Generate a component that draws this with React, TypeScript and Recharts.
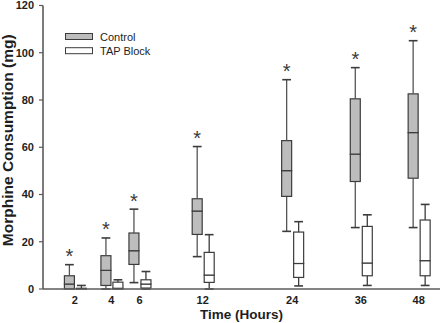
import React from 'react';
import { ComposedChart, Bar, XAxis, YAxis, Legend, LabelList, Label } from 'recharts';

// ---- data ----
const hours = [2, 4, 6, 12, 24, 36, 48];

const controlMin = [0, 0, 2.7, 13.7, 24.4, 26.0, 26.0];
const controlQ1 = [0, 1.5, 10.4, 23.1, 39.2, 45.5, 46.9];
const controlMedian = [2.1, 7.9, 16.2, 33.0, 50.1, 57.1, 66.2];
const controlQ3 = [5.6, 14.1, 23.7, 38.2, 62.8, 80.5, 82.6];
const controlMax = [10.3, 21.6, 33.8, 60.3, 88.6, 93.7, 105.1];

const tapMin = [0, 0, 0, 0, 1.3, 1.5, 1.5];
const tapQ1 = [0, 0, 0.4, 2.8, 4.9, 5.6, 5.6];
const tapMedian = [0, 0.3, 2.1, 5.9, 10.8, 11.0, 12.0];
const tapQ3 = [0.3, 2.9, 3.9, 15.5, 24.1, 26.5, 29.2];
const tapMax = [1.5, 3.9, 7.4, 23.0, 28.5, 31.4, 35.8];

const significance = ['*', '*', '*', '*', '*', '*', '*'];

const yTicks = [0, 20, 40, 60, 80, 100, 120];
const seriesNames = ['Control', 'TAP Block'];

// ---- table built for the library ----
const data = hours.map((h, i) => ({
  hour: h,
  cBase: controlMin[i],
  cLow: controlQ1[i] - controlMin[i],
  cBoxLow: controlMedian[i] - controlQ1[i],
  cBoxHigh: controlQ3[i] - controlMedian[i],
  cHigh: controlMax[i] - controlQ3[i],
  cSig: significance[i],
  tBase: tapMin[i],
  tLow: tapQ1[i] - tapMin[i],
  tBoxLow: tapMedian[i] - tapQ1[i],
  tBoxHigh: tapQ3[i] - tapMedian[i],
  tHigh: tapMax[i] - tapQ3[i],
}));

const FONT = '"Liberation Sans", Arial, Helvetica, sans-serif';
const STROKE = '#3c3c3c';
const CONTROL_FILL = '#bdbdbd';
const TAP_FILL = '#ffffff';
const TEXT = '#1e1e1e';

const Empty = () => <g />;

const makeWhisker = (capAtTop: boolean, color: string) => (p: any) => {
  const { x, y, width, height } = p;
  if (!(height > 0.05)) return <g />;
  const cx = x + width / 2;
  const capY = capAtTop ? y : y + height;
  const half = width * 0.4;
  return (
    <g>
      <line x1={cx} x2={cx} y1={y} y2={y + height} stroke={color} strokeWidth={1.3} />
      <line x1={cx - half} x2={cx + half} y1={capY} y2={capY} stroke={STROKE} strokeWidth={1.6} />
    </g>
  );
};

const makeBox = (fill: string) => (p: any) => {
  const { x, y, width, height } = p;
  if (!(height > 0.05)) return <g />;
  return (
    <rect
      x={x + 0.5}
      y={y}
      width={width - 1}
      height={height}
      fill={fill}
      stroke={STROKE}
      strokeWidth={1.2}
    />
  );
};

const AsteriskLabel = (props: any) => {
  const vb = props.viewBox && props.viewBox.x != null ? props.viewBox : props;
  const { x, y, width } = vb;
  if (x == null || y == null) return null;
  return (
    <text
      x={x + width / 2}
      y={y - 1.5}
      textAnchor="middle"
      fontSize={20}
      fontFamily={FONT}
      fill="#3a3a3a"
    >
      {props.value}
    </text>
  );
};

const LegendContent = () => (
  <svg width={140} height={32}>
    <rect x={5.5} y={5.5} width={27} height={6} fill={CONTROL_FILL} stroke={STROKE} strokeWidth={1} />
    <text x={40} y={12.6} fontSize={11} fontFamily={FONT} fill={TEXT}>
      {seriesNames[0]}
    </text>
    <rect x={5.5} y={19.7} width={27} height={6} fill={TAP_FILL} stroke={STROKE} strokeWidth={1} />
    <text x={40} y={26.6} fontSize={11} fontFamily={FONT} fill={TEXT}>
      {seriesNames[1]}
    </text>
  </svg>
);

const YTitle = (props: any) => {
  const vb = props.viewBox || { x: 0, y: 0, width: 43, height: 284 };
  const tx = vb.x + 12.5;
  const ty = vb.y + vb.height / 2 - 7;
  return (
    <text
      x={tx}
      y={ty}
      transform={`rotate(-90 ${tx} ${ty})`}
      textAnchor="middle"
      fontSize={15.5}
      fontWeight="bold"
      fontFamily={FONT}
      fill={TEXT}
    >
      Morphine Consumption (mg)
    </text>
  );
};

export default function App() {
  return (
    <div style={{ position: 'absolute', left: 0, top: 0, background: '#fff' }}>
      <ComposedChart
        width={440}
        height={323}
        data={data}
        margin={{ top: 5.5, right: 0, left: 0, bottom: 0 }}
        barGap={1}
        style={{ fontFamily: FONT }}
      >
        <XAxis
          dataKey="hour"
          type="number"
          scale="sqrt"
          domain={[0.814, 52.86]}
          ticks={hours}
          interval={0}
          height={34}
          tickLine={false}
          tickSize={4}
          tickMargin={3.5}
          axisLine={{ stroke: '#5a5a5a', strokeWidth: 1.6 }}
          tick={{ fill: TEXT, fontSize: 11, fontWeight: 'bold', fontFamily: FONT }}
        >
          <Label
            value="Time (Hours)"
            position="insideBottom"
            offset={4}
            style={{ fontSize: 13.5, fontWeight: 'bold', fill: TEXT, fontFamily: FONT }}
          />
        </XAxis>
        <YAxis
          type="number"
          domain={[0, 120]}
          ticks={yTicks}
          interval={0}
          width={43}
          tickSize={4}
          tickMargin={5}
          tickLine={{ stroke: '#5a5a5a', strokeWidth: 1.2 }}
          axisLine={{ stroke: '#5a5a5a', strokeWidth: 1.6 }}
          tick={{ fill: TEXT, fontSize: 11, fontWeight: 'bold', fontFamily: FONT }}
        >
          <Label content={YTitle} />
        </YAxis>
        <Legend
          layout="vertical"
          align="center"
          verticalAlign="middle"
          content={LegendContent}
          wrapperStyle={{ left: 60, top: 28, width: 140, height: 32 }}
        />

        <Bar dataKey="cBase" stackId="control" barSize={11} shape={Empty} isAnimationActive={false} />
        <Bar dataKey="cLow" stackId="control" barSize={11} shape={makeWhisker(false, '#555')} isAnimationActive={false} />
        <Bar dataKey="cBoxLow" stackId="control" barSize={11} shape={makeBox(CONTROL_FILL)} isAnimationActive={false} />
        <Bar dataKey="cBoxHigh" stackId="control" barSize={11} shape={makeBox(CONTROL_FILL)} isAnimationActive={false} />
        <Bar dataKey="cHigh" stackId="control" barSize={11} shape={makeWhisker(true, '#555')} isAnimationActive={false}>
          <LabelList dataKey="cSig" content={AsteriskLabel} />
        </Bar>

        <Bar dataKey="tBase" stackId="tap" barSize={11} shape={Empty} isAnimationActive={false} />
        <Bar dataKey="tLow" stackId="tap" barSize={11} shape={makeWhisker(false, STROKE)} isAnimationActive={false} />
        <Bar dataKey="tBoxLow" stackId="tap" barSize={11} shape={makeBox(TAP_FILL)} isAnimationActive={false} />
        <Bar dataKey="tBoxHigh" stackId="tap" barSize={11} shape={makeBox(TAP_FILL)} isAnimationActive={false} />
        <Bar dataKey="tHigh" stackId="tap" barSize={11} shape={makeWhisker(true, STROKE)} isAnimationActive={false} />
      </ComposedChart>
    </div>
  );
}
